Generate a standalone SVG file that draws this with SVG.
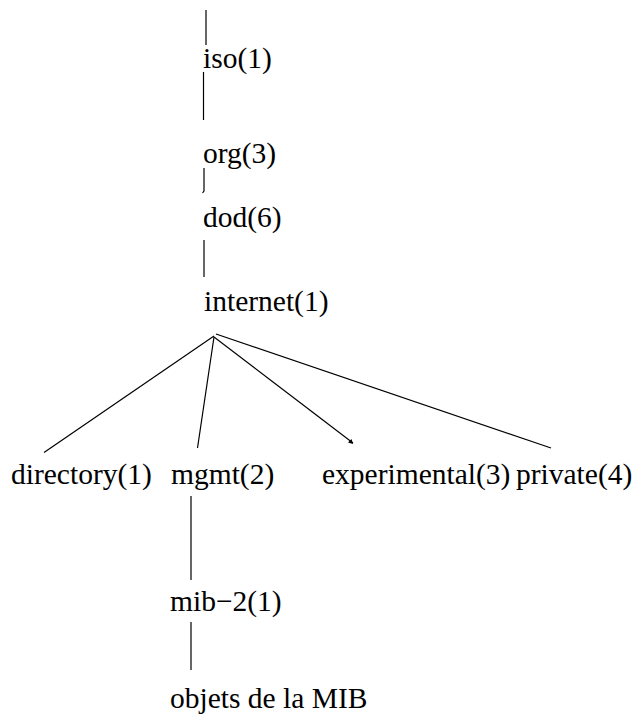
<svg xmlns="http://www.w3.org/2000/svg" width="643" height="718" viewBox="0 0 643 718">
  <style>
    text { font-family: 'Liberation Serif', 'Times New Roman', Times, serif; font-size: 29.5px; fill: #000; }
    .edge { stroke: #000; stroke-width: 1.2; fill: none; stroke-linecap: butt; }
  </style>
  <rect width="643" height="718" fill="#fff"/>

  <!-- connectors of the OID tree -->
  <g id="connectors">
    <line class="edge" x1="206" y1="10" x2="206" y2="45"/>
    <line class="edge" x1="203.5" y1="72" x2="203.5" y2="120"/>
    <path class="edge" d="M204 168 L204 191 L202.5 193"/>
    <line class="edge" x1="204" y1="240" x2="204" y2="277"/>

    <line class="edge" x1="214" y1="336" x2="44" y2="452.5"/>
    <line class="edge" x1="214" y1="337" x2="197.5" y2="448"/>
    <line class="edge" x1="214" y1="337" x2="353" y2="443"/>
    <path d="M353 444 L348 442.5 L351.5 439 Z" fill="#000"/>
    <line class="edge" x1="216" y1="334" x2="551" y2="448"/>

    <line class="edge" x1="191" y1="496" x2="191" y2="580"/>
    <line class="edge" x1="191" y1="622" x2="191" y2="670"/>
  </g>

  <g id="iso"><text font-family="Liberation Serif, serif" x="203" y="68">iso(1)</text></g>
  <g id="org"><text font-family="Liberation Serif, serif" x="203" y="163">org(3)</text></g>
  <g id="dod"><text font-family="Liberation Serif, serif" x="203" y="227">dod(6)</text></g>
  <g id="internet"><text font-family="Liberation Serif, serif" x="204" y="311">internet(1)</text></g>
  <g id="directory"><text font-family="Liberation Serif, serif" x="11" y="484">directory(1)</text></g>
  <g id="mgmt"><text font-family="Liberation Serif, serif" x="171" y="484">mgmt(2)</text></g>
  <g id="experimental"><text font-family="Liberation Serif, serif" x="322" y="484">experimental(3)</text></g>
  <g id="private"><text font-family="Liberation Serif, serif" x="516" y="484">private(4)</text></g>
  <g id="mib-2"><text font-family="Liberation Serif, serif" x="170" y="611">mib−2(1)</text></g>
  <g id="mib-objects"><text font-family="Liberation Serif, serif" x="170" y="708">objets de la MIB</text></g>
</svg>
